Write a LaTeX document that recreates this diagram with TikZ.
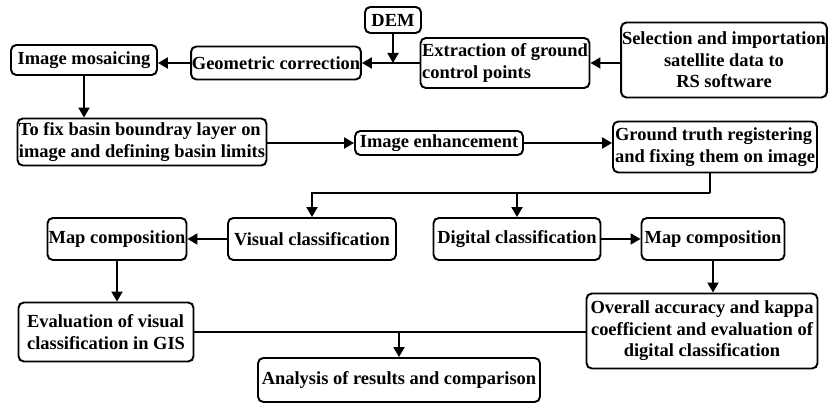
\documentclass[tikz,border=0pt]{standalone}
\usepackage{fontspec}
\setmainfont{Liberation Serif}
\usetikzlibrary{arrows.meta,positioning,calc}

\tikzset{
  box/.style={draw, line width=1.1pt, rounded corners=3pt, inner sep=0.5pt,
    font=\fontsize{10.5}{12.3}\selectfont\bfseries, align=center},
  arr/.style={line width=1.1pt, -{Triangle[length=2mm,width=2.2mm]}},
  link/.style={line width=1.1pt}
}

\begin{document}
\begin{tikzpicture}[x=0.02cm, y=-0.02cm]
    \useasboundingbox (0,0) rectangle (828,404);

    % Top row: data preparation
    \node[box, minimum width=1.12cm, minimum height=0.52cm] (dem) at (393,20) {DEM};
    \node[box, minimum width=4.08cm, minimum height=1.5cm] (sel) at (724,60) {Selection and importation\\satellite data to\\RS software};
    \node[box, minimum width=3.38cm, minimum height=1.0cm, align=left] (extr) at (505,63) {Extraction of ground\\control points};
    \node[box, minimum width=3.32cm, minimum height=0.66cm] (geo) at (276,63) {Geometric correction};
    \node[box, minimum width=2.92cm, minimum height=0.6cm] (mos) at (84,60) {Image mosaicing};

    % Second row
    \node[box, minimum width=4.98cm, minimum height=0.94cm, align=left] (fix) at (142,142) {To fix basin boundray layer on\\image and defining basin limits};
    \node[box, minimum width=3.36cm, minimum height=0.48cm] (enh) at (439,143) {Image enhancement};
    \node[box, minimum width=4.08cm, minimum height=1.02cm, align=left] (gtr) at (715,147) {Ground truth registering\\and fixing them on image};

    % Classification row
    \node[box, minimum width=2.78cm, minimum height=0.84cm] (mapl) at (117,239) {Map composition};
    \node[box, minimum width=3.36cm, minimum height=0.84cm] (vis) at (312,239) {Visual classification};
    \node[box, minimum width=3.34cm, minimum height=0.84cm] (dig) at (517,239) {Digital classification};
    \node[box, minimum width=2.86cm, minimum height=0.84cm] (mapr) at (713,239) {Map composition};

    % Evaluation and results
    \node[box, minimum width=3.5cm, minimum height=1.18cm, align=left] (eval) at (106,332) {Evaluation of visual\\classification in GIS};
    \node[box, minimum width=4.62cm, minimum height=1.5cm] (ovr) at (702,331) {Overall accuracy and kappa\\coefficient and evaluation of\\digital classification};
    \node[box, minimum width=5.64cm, minimum height=0.88cm] (ana) at (399,380) {Analysis of results and comparison};

    \coordinate (split) at ($(gtr.south)+(-5,20)$);

    % Connectors
    \draw[arr] (sel.west |- extr) -- (extr.east);
    \draw[arr] (extr.west) -- (extr.west -| geo.east);
    \draw[arr] (dem.south) -- (dem.south |- extr.west);
    \draw[arr] (geo.west) -- (geo.west -| mos.east);
    \draw[arr] (mos.south) -- (mos.south |- fix.north);
    \draw[arr] (fix.east |- enh) -- (enh.west);
    \draw[arr] (enh.east) -- (enh.east -| gtr.west);
    \draw[link] (split |- gtr.south) -- (split);
    \draw[arr] (split) -| (vis.north);
    \draw[arr] (split -| dig.north) -- (dig.north);
    \draw[arr] (vis.west) -- (mapl.east);
    \draw[arr] (dig.east) -- (mapr.west);
    \draw[arr] (mapl.south) -- (mapl.south |- eval.north);
    \draw[arr] (mapr.south) -- (mapr.south |- ovr.north);
    \draw[link] (eval.east) -- (eval.east -| ovr.west);
    \draw[arr] (ana.north |- eval.east) -- (ana.north);
\end{tikzpicture}
\end{document}
